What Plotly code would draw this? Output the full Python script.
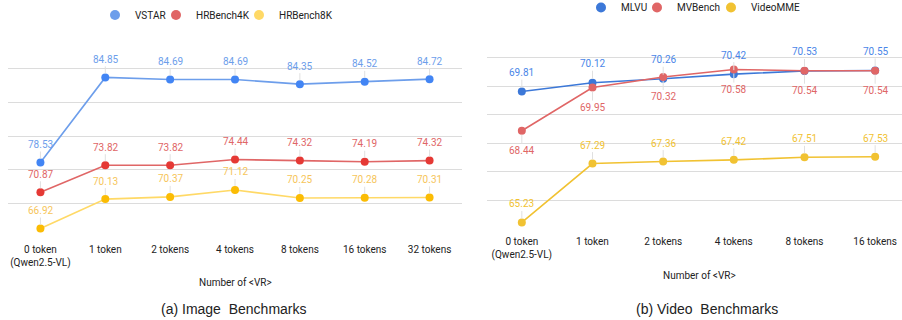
import plotly.graph_objects as go

# ---------------- data ----------------
img_cats = ["0 token<br>(Qwen2.5-VL)", "1 token", "2 tokens", "4 tokens",
            "8 tokens", "16 tokens", "32 tokens"]
vstar = [78.53, 84.85, 84.69, 84.69, 84.35, 84.52, 84.72]
hrbench4k = [70.87, 73.82, 73.82, 74.44, 74.32, 74.19, 74.32]
hrbench8k = [66.92, 70.13, 70.37, 71.12, 70.25, 70.28, 70.31]

vid_cats = ["0 token<br>(Qwen2.5-VL)", "1 token", "2 tokens", "4 tokens",
            "8 tokens", "16 tokens"]
mlvu = [69.81, 70.12, 70.26, 70.42, 70.53, 70.55]
mvbench = [68.44, 69.95, 70.32, 70.58, 70.54, 70.54]
videomme = [65.23, 67.29, 67.36, 67.42, 67.51, 67.53]

x_title = "Number of &lt;VR&gt;"
captions = ["(a) Image\u00a0 Benchmarks", "(b) Video\u00a0 Benchmarks"]

# ---------------- helpers ----------------
W, H = 902, 320
FONT = "Roboto, Arial, sans-serif"
CAP_FONT = "Liberation Sans, Arial, sans-serif"
TXT = "#222222"
GRID = "#dcdcdc"


def px(xp):
    return xp / W


def py(yp):
    return 1 - yp / H


fig = go.Figure()

# name, cats, values, xaxis, yaxis, line color, marker color, label color, label offset,
# legend id, legend color, legend marker x, legend y
series = [
    ("VSTAR", img_cats, vstar, "x", "y2", "#6d9eeb", "#4285f4", "#6d9eeb", -18, "legend", "#6d9eeb", 115, 15),
    ("HRBench4K", img_cats, hrbench4k, "x", "y", "#e06666", "#e53935", "#e06666", -18, "legend2", "#e06666", 176, 15),
    ("HRBench8K", img_cats, hrbench8k, "x", "y", "#ffd966", "#fbbc04", "#f6c55a", -18, "legend3", "#ffd966", 259, 15),
    ("MLVU", vid_cats, mlvu, "x2", "y3", "#3c78d8", "#3c78d8", "#4a86e8", -19, "legend4", "#3c78d8", 601, 7.5),
    ("MVBench", vid_cats, mvbench, "x2", "y3", "#e06666", "#e06666", "#e06666", 20, "legend5", "#e06666", 657, 7.5),
    ("VideoMME", vid_cats, videomme, "x2", "y3", "#f1c232", "#f1c232", "#f1c232", -18.5, "legend6", "#f1c232", 731, 7.5),
]

annotations = []
legends = {}
for (name, cats, vals, xa, ya, lc, mc, tc, off, leg, legc, lx, ly) in series:
    fig.add_trace(go.Scatter(
        x=cats, y=vals, xaxis=xa, yaxis=ya, mode="lines+markers",
        line=dict(color=lc, width=1.6), marker=dict(color=mc, size=8),
        name=name, showlegend=False, hoverinfo="skip"))
    # legend-only marker entry
    fig.add_trace(go.Scatter(
        x=[None], y=[None], xaxis=xa, yaxis=ya, mode="markers",
        marker=dict(color=legc, size=10), name=name, legend=leg,
        showlegend=True, hoverinfo="skip"))
    legends[leg] = dict(
        x=px(lx - 20), y=py(ly), xanchor="left", yanchor="middle",
        orientation="h", bgcolor="rgba(0,0,0,0)", borderwidth=0,
        font=dict(family=FONT, size=10, color=TXT), itemwidth=30)
    for c, v in zip(cats, vals):
        annotations.append(dict(
            x=c, y=v, xref=xa, yref=ya, text=f"{v:.2f}", showarrow=True,
            arrowhead=0, arrowwidth=1, arrowcolor="#e0e0e0", ax=0, ay=off,
            standoff=4, font=dict(family=FONT, size=10, color=tc)))

# axis titles and captions
annotations += [
    dict(x=px(235), y=py(282), xref="paper", yref="paper", text=x_title,
         showarrow=False, xanchor="center", yanchor="middle",
         font=dict(family=FONT, size=10, color=TXT)),
    dict(x=px(699), y=py(275), xref="paper", yref="paper", text=x_title,
         showarrow=False, xanchor="center", yanchor="middle",
         font=dict(family=FONT, size=10, color=TXT)),
    dict(x=px(234.5), y=py(309), xref="paper", yref="paper", text=captions[0],
         showarrow=False, xanchor="center", yanchor="middle",
         font=dict(family=CAP_FONT, size=14, color=TXT)),
    dict(x=px(706.5), y=py(309), xref="paper", yref="paper", text=captions[1],
         showarrow=False, xanchor="center", yanchor="middle",
         font=dict(family=CAP_FONT, size=14, color=TXT)),
]

tickfont = dict(family=FONT, size=10, color=TXT)

fig.update_layout(
    width=W, height=H,
    margin=dict(l=0, r=0, t=0, b=0, pad=0, autoexpand=False),
    paper_bgcolor="white", plot_bgcolor="white",
    annotations=annotations,
    xaxis=dict(domain=[px(8), px(462)], type="category", range=[-0.5, 6.5],
               showgrid=False, zeroline=False, showline=False, ticks="",
               tickfont=tickfont, anchor="y", ticklabelstandoff=5,
               automargin=False),
    yaxis=dict(domain=[py(237), py(35)], range=[66, 88], showgrid=False,
               zeroline=False, showticklabels=False, anchor="x",
               automargin=False),
    yaxis2=dict(domain=[py(237), py(35)], range=[73, 88], overlaying="y",
                side="right", showgrid=True, gridcolor=GRID, gridwidth=1,
                tick0=73, dtick=2.5, zeroline=False, showticklabels=False,
                anchor="x", automargin=False),
    xaxis2=dict(domain=[px(486.5), 1.0], type="category", range=[-0.5, 5.38],
                showgrid=False, zeroline=False, showline=False, ticks="",
                tickfont=tickfont, anchor="y3", ticklabelstandoff=5,
                automargin=False),
    yaxis3=dict(domain=[py(229), py(29)], range=[65, 72], showgrid=True,
                gridcolor=GRID, gridwidth=1, tick0=65, dtick=1,
                zeroline=False, showticklabels=False, anchor="x2",
                automargin=False),
    **legends,
)

fig.write_html("out.html")
